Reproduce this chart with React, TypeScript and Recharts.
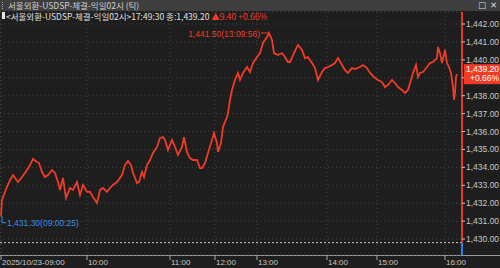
import React from "react";
import {
  LineChart,
  Line,
  XAxis,
  YAxis,
  CartesianGrid,
  ReferenceLine,
  ReferenceDot,
} from "recharts";

// tick sequence number (x) and traded price
const seq = [
  1, 2, 7, 10, 13, 18, 22, 27, 30, 33, 37, 39, 42, 45, 48, 52, 55, 58, 60, 63,
  66, 70, 73, 77, 80, 83, 87, 90, 93, 97, 100, 103, 107, 110, 113, 117, 122,
  125, 128, 131, 133, 137, 139, 142, 144, 147, 150, 153, 157, 160, 163, 165,
  168, 172, 175, 178, 182, 184, 187, 190, 193, 197, 200, 202, 205, 208, 212,
  214, 217, 218, 221, 223, 227, 228, 230, 232, 235, 238, 240, 243, 247, 250,
  253, 257, 260, 263, 267, 269, 272, 274, 278, 282, 285, 288, 290, 293, 298,
  302, 305, 308, 312, 315, 318, 322, 325, 328, 332, 335, 338, 342, 345, 348,
  352, 355, 360, 363, 367, 370, 375, 378, 382, 385, 388, 392, 395, 398, 402,
  405, 408, 411, 413, 416, 418, 420, 423, 427, 430, 433, 437, 438, 440, 442,
  445, 447, 449, 451, 453, 454, 455, 456, 457,
];
const price = [
  1431.3, 1432.18, 1432.92, 1433.29, 1433.57, 1433.18, 1433.46, 1433.85,
  1434.13, 1434.47, 1434.3, 1434.24, 1433.74, 1433.46, 1433.57, 1433.85,
  1433.69, 1433.18, 1432.74, 1433.41, 1432.29, 1432.85, 1432.74, 1433.18,
  1432.46, 1433.02, 1432.63, 1432.63, 1432.35, 1432.01, 1432.74, 1432.85,
  1432.63, 1432.85, 1433.02, 1433.18, 1433.57, 1434.13, 1434.35, 1434.13,
  1433.69, 1433.13, 1433.18, 1433.74, 1433.46, 1434.13, 1434.41, 1434.8,
  1435.14, 1435.64, 1435.69, 1435.53, 1434.97, 1435.53, 1435.14, 1434.69,
  1435.14, 1435.69, 1434.86, 1434.52, 1434.41, 1434.41, 1433.96, 1433.96,
  1434.24, 1434.8, 1435.53, 1435.92, 1435.36, 1434.86, 1435.36, 1436.25,
  1436.81, 1437.03, 1437.76, 1438.32, 1438.88, 1439.27, 1438.88, 1439.27,
  1439.6, 1439.32, 1439.82, 1440.16, 1440.38, 1440.94, 1441.27, 1441.5,
  1441.11, 1440.38, 1440.27, 1440.38, 1440.16, 1439.88, 1439.88, 1440.27,
  1440.83, 1440.55, 1440.1, 1440.16, 1439.82, 1439.54, 1438.88, 1439.32,
  1439.54, 1439.6, 1439.71, 1439.82, 1440.1, 1439.71, 1439.43, 1439.27,
  1439.54, 1439.49, 1439.6, 1439.71, 1439.54, 1439.27, 1438.99, 1438.88,
  1438.76, 1438.48, 1438.6, 1438.88, 1438.71, 1438.48, 1438.32, 1438.15,
  1438.32, 1438.88, 1439.27, 1439.71, 1439.04, 1439.27, 1439.32, 1439.6,
  1439.82, 1439.88, 1440.1, 1440.72, 1440.38, 1439.82, 1440.55, 1439.82,
  1439.6, 1439.27, 1438.48, 1437.76, 1438.15, 1439.04, 1439.2,
];

const timeTicks = [1, 87, 170, 215, 257, 327, 377, 445];
const timeLabels = ["2025/10/23-09:00", "10:00", "11:00", "12:00", "13:00", "14:00", "15:00", "16:00"];
const priceTicks = [1430, 1431, 1432, 1433, 1434, 1435, 1436, 1437, 1438, 1439, 1440, 1441, 1442];

const prevClose = 1429.8;
const lastPrice = 1439.2;
const change = "▲9.40";
const changePct = "+0.66%";
const high = { seq: 269, price: 1441.5, time: "13:09:56" };
const low = { seq: 1, price: 1431.3, time: "09:00:25" };

const yMin = 1429.11;
const yMax = 1442.67;
const xMax = 462;

const data = seq.map((s, i) => ({ seq: s, price: price[i] }));

const RED = "#f03c27";
const BLUE = "#3a8ee6";
const TXT = "#c8c8c8";
const NUM_FONT = "Liberation Sans Narrow, Liberation Sans";
const fmt = (v: number) => v.toLocaleString("en-US", { minimumFractionDigits: 2, maximumFractionDigits: 2 });

const TimeTick = ({ x, y, payload }: any) => {
  const i = timeTicks.indexOf(payload.value);
  return (
    <g>
      <line x1={x} x2={x} y1={y} y2={y + 5} stroke="#a8a8a8" />
      <text x={x + 1} y={y + 10} fill={TXT} fontSize={8} fontFamily={NUM_FONT}>
        {timeLabels[i]}
      </text>
    </g>
  );
};

const PriceTick = ({ x, y, payload }: any) => {
  // the last-price box covers this label
  if (Math.abs(payload.value - lastPrice) < 0.6) return null;
  return (
    <text x={x} y={y} dy="0.35em" fill={TXT} fontSize={8.5} fontFamily={NUM_FONT}>
      {fmt(payload.value)}
    </text>
  );
};

const HighMark = ({ cx, cy }: any) => (
  <g>
    <line x1={cx - 8} x2={cx - 1} y1={cy} y2={cy} stroke={RED} />
    <text x={cx - 9} y={cy + 1} dy="0.35em" textAnchor="end" fill={RED} fontSize={8.5} fontFamily={NUM_FONT}>
      {fmt(high.price)}({high.time})
    </text>
  </g>
);

const LowMark = ({ cx, cy }: any) => (
  <g>
    <polyline points={`${cx + 1},${cy} ${cx + 1},${cy + 7} ${cx + 5},${cy + 7}`} fill="none" stroke={BLUE} />
    <text x={cx + 6} y={cy + 7} dy="0.35em" fill={BLUE} fontSize={8.5} fontFamily={NUM_FONT}>
      {fmt(low.price)}({low.time})
    </text>
  </g>
);

const LastBox = ({ cx, cy }: any) => (
  <g>
    <rect x={cx + 2} y={cy - 10} width={38} height={20} fill={RED} />
    <text x={cx + 37} y={cy - 5} dy="0.35em" textAnchor="end" fill="#fff" fontSize={8.5} fontFamily={NUM_FONT}>
      {fmt(lastPrice)}
    </text>
    <text x={cx + 37} y={cy + 4} dy="0.35em" textAnchor="end" fill="#fff" fontSize={8.5} fontFamily={NUM_FONT}>
      {changePct}
    </text>
  </g>
);

const headText: React.CSSProperties = {
  position: "absolute",
  fontSize: 8.5,
  lineHeight: "11px",
  height: 11,
  whiteSpace: "nowrap",
  overflow: "visible",
};

export default function App() {
  return (
    <div
      style={{
        position: "absolute",
        left: 0,
        top: 0,
        width: 500,
        height: 268,
        background: "#1e1e1e",
        overflow: "hidden",
        fontFamily: "'Noto Sans CJK KR', sans-serif",
      }}
    >
      <div style={{ position: "absolute", left: 0, top: 0, width: 500, height: 11, background: "#3e3e3e" }} />
      <div style={{ position: "absolute", left: 2, top: 2, width: 1, height: 7, borderLeft: "1px dotted #aaa" }} />
      <div style={{ ...headText, left: 8, top: 0, color: "#d0d0d0" }}>서울외환-USDSP-체결-익일02시 (틱)</div>
      <div style={{ ...headText, left: 478, top: 0, color: "#ddd", fontFamily: "DejaVu Sans" }}>□</div>
      <div style={{ ...headText, left: 490, top: 0, color: "#ddd", fontFamily: "DejaVu Sans" }}>✕</div>
      <div style={{ position: "absolute", left: 0, top: 255, width: 500, height: 1, background: "#9a9a9a" }} />

      <div style={{ position: "absolute", left: 0, top: 0 }}>
        <LineChart width={500} height={268} data={data} margin={{ top: 12, right: 0, left: 0, bottom: 0 }}>
          <CartesianGrid stroke="#444" strokeDasharray="1 3" />
          <XAxis
            type="number"
            dataKey="seq"
            domain={[0, xMax]}
            ticks={timeTicks}
            interval={0}
            allowDataOverflow
            height={13}
            axisLine={false}
            tickLine={false}
            tickSize={0}
            tickMargin={0}
            tick={<TimeTick />}
          />
          <YAxis
            orientation="right"
            width={38}
            domain={[yMin, yMax]}
            ticks={priceTicks}
            interval={0}
            allowDataOverflow
            axisLine={false}
            tickLine={{ stroke: TXT }}
            tickSize={3}
            tickMargin={1}
            tick={<PriceTick />}
          />
          <ReferenceLine y={prevClose} stroke="#cfcfcf" strokeDasharray="2 2" />
          <Line
            type="linear"
            dataKey="price"
            stroke={RED}
            strokeWidth={1.8}
            dot={false}
            isAnimationActive={false}
          />
          <ReferenceLine
            segment={[{ x: xMax, y: yMax }, { x: xMax, y: prevClose }]}
            stroke="#e5352a"
            strokeWidth={2}
            ifOverflow="visible"
          />
          <ReferenceLine
            segment={[{ x: xMax, y: prevClose }, { x: xMax, y: yMin }]}
            stroke="#2f7fe0"
            strokeWidth={2}
            ifOverflow="visible"
          />
          <ReferenceDot x={high.seq} y={high.price} ifOverflow="visible" shape={<HighMark />} />
          <ReferenceDot x={low.seq} y={low.price} ifOverflow="visible" shape={<LowMark />} />
          <ReferenceDot x={xMax} y={lastPrice} ifOverflow="visible" shape={<LastBox />} />
        </LineChart>
      </div>

      <div style={{ position: "absolute", left: 2, top: 12, width: 3, height: 7, background: "#e8e8e8" }} />
      <div style={{ ...headText, left: 6, top: 11, color: "#e0e0e0" }}>
        &lt;서울외환-USDSP-체결-익일02시&gt;17:49:30 종:{fmt(lastPrice)}{" "}
        <span style={{ color: RED }}>
          {change} {changePct}
        </span>
      </div>
    </div>
  );
}
